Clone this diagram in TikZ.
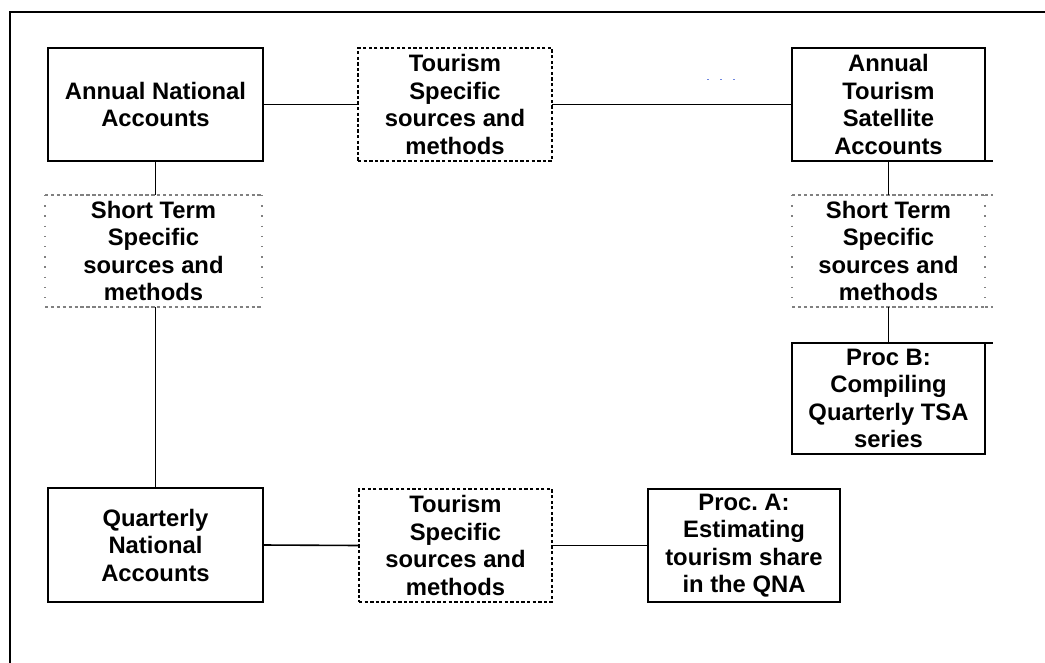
\documentclass[tikz,border=0pt]{standalone}
\usepackage{fontspec}
\setmainfont{Liberation Sans}
\frenchspacing
\begin{document}
\begin{tikzpicture}[x=1pt,y=-1pt,
  lbl/.style={font=\fontsize{23.8}{27.5}\selectfont\bfseries, align=center, inner sep=0pt, outer sep=0pt},
  solidbox/.style={lbl, draw=black, line width=1.6pt},
  tsbox/.style={lbl, draw=black, line width=1.3pt, dash pattern=on 3.3pt off 2.3pt},
  stbox/.style={lbl},
  stdash/.style={draw=black!50, line width=1.2pt, dash pattern=on 3.3pt off 2.6pt},
  stdot/.style={draw=black!50, line width=1.2pt, dash pattern=on 1.4pt off 8.8pt},
  conn/.style={draw=black, line width=1.6pt},
  frame/.style={draw=black, line width=2.2pt}
]
\useasboundingbox (0,0) rectangle (1045,662);
\draw[frame] (10,670) -- (10,12) -- (1050,12);

\node[solidbox, minimum width=215pt, minimum height=113pt] (ana) at (155.5,104.5) {Annual National\\Accounts};
\node[tsbox, minimum width=194pt, minimum height=113pt] (tt) at (455,104.5) {Tourism\\Specific\\sources and\\methods};
\node[solidbox, minimum width=193pt, minimum height=113pt] (atsa) at (888.5,104.5) {Annual\\Tourism\\Satellite\\Accounts};
\node[stbox, minimum width=217pt, minimum height=112pt] (stl) at (153.5,251) {Short Term\\Specific\\sources and\\methods};
\node[stbox, minimum width=193pt, minimum height=112pt] (str) at (888.5,251) {Short Term\\Specific\\sources and\\methods};
\node[solidbox, minimum width=193pt, minimum height=111pt] (procb) at (888.5,398.5) {Proc B:\\Compiling\\Quarterly TSA\\series};
\node[solidbox, minimum width=215pt, minimum height=114pt] (qna) at (155.5,545) {Quarterly\\National\\Accounts};
\node[tsbox, minimum width=193pt, minimum height=113pt] (tb) at (455.5,545.5) {Tourism\\Specific\\sources and\\methods};
\node[solidbox, minimum width=192pt, minimum height=113pt] (proca) at (744,545.5) {Proc.\ A:\\Estimating\\tourism share\\in the QNA};

% short term box borders
\foreach \b in {stl,str}{
  \draw[stdash] (\b.north west) -- (\b.north east) (\b.south west) -- (\b.south east);
  \draw[stdot] (\b.north west) -- (\b.south west) (\b.north east) -- (\b.south east);
}
\draw[stdash] (str.north east) -- ++(8,0) (str.south east) -- ++(8,0);
\draw[conn] (atsa.south east) -- ++(8,0);
\draw[conn] (procb.north east) -- ++(8,0);

% connectors
\draw[conn] (ana.east) -- (tt.west);
\draw[conn] (tt.east) -- (atsa.west);
\draw[conn] (ana.south) -- (stl.north -| ana.south);
\draw[conn] (stl.south -| qna.north) -- (qna.north);
\draw[conn] (atsa.south) -- (str.north);
\draw[conn] (str.south) -- (procb.north);
\draw[conn] (qna.east) -- (tb.west);
\draw[conn] (tb.east) -- (proca.west);

% small blue marks
\coordinate (bm1) at (707,79);
\coordinate (bm2) at (737,79);
\draw[draw={rgb,255:red,110;green,134;blue,224}, line width=1pt, dash pattern=on 2.2pt off 10.8pt] (bm1) -- (bm2);
\end{tikzpicture}
\end{document}
